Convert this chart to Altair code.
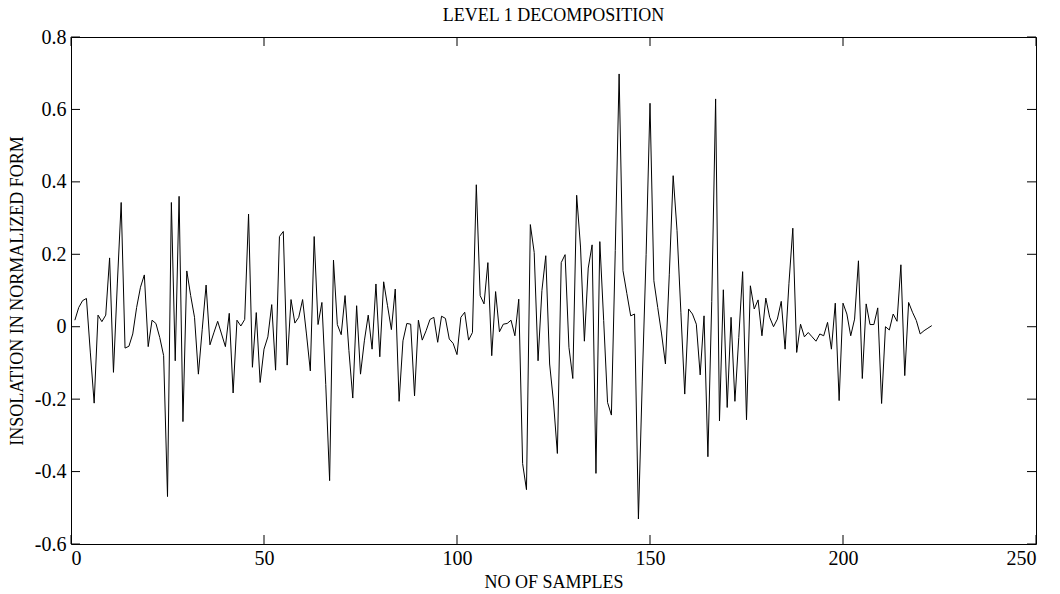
import altair as alt
import pandas as pd

values = [
    0.018, 0.053, 0.072, 0.078, -0.07, -0.211, 0.032, 0.014, 0.032, 0.19,
    -0.126, 0.118, 0.343, -0.059, -0.054, -0.02, 0.053, 0.109, 0.143, -0.055,
    0.018, 0.009, -0.03, -0.08, -0.469, 0.343, -0.094, 0.36, -0.262, 0.154,
    0.086, 0.026, -0.131, -0.007, 0.115, -0.05, -0.017, 0.015, -0.02, -0.055,
    0.037, -0.183, 0.018, 0.002, 0.02, 0.311, -0.112, 0.039, -0.154, -0.062,
    -0.028, 0.061, -0.12, 0.249, 0.263, -0.106, 0.075, 0.01, 0.026, 0.075,
    -0.02, -0.122, 0.249, 0.006, 0.067, -0.16, -0.425, 0.184, 0.006, -0.022,
    0.086, -0.066, -0.197, 0.058, -0.131, -0.039, 0.032, -0.062, 0.118, -0.083,
    0.124, 0.058, -0.008, 0.104, -0.206, -0.039, 0.009, 0.007, -0.191, 0.018,
    -0.037, -0.011, 0.02, 0.026, -0.043, 0.029, 0.023, -0.034, -0.046, -0.077,
    0.026, 0.04, -0.037, -0.016, 0.392, 0.086, 0.063, 0.177, -0.08, 0.097,
    -0.014, 0.007, 0.009, 0.018, -0.025, 0.076, -0.378, -0.45, 0.282, 0.205,
    -0.094, 0.1, 0.196, -0.103, -0.208, -0.35, 0.177, 0.199, -0.057, -0.143,
    0.363, 0.22, -0.04, 0.162, 0.226, -0.405, 0.235, 0.017, -0.209, -0.244,
    0.21, 0.698, 0.155, 0.092, 0.03, 0.035, -0.531, -0.15, 0.2, 0.617,
    0.127, 0.053, -0.02, -0.103, 0.145, 0.417, 0.266, 0.04, -0.186, 0.049,
    0.035, 0.007, -0.133, 0.03, -0.359, 0.07, 0.629, -0.26, 0.102, -0.223,
    0.026, -0.206, -0.03, 0.152, -0.257, 0.113, 0.049, 0.074, -0.025, 0.079,
    0.026, 0.0, 0.021, 0.07, -0.062, 0.12, 0.272, -0.071, 0.007, -0.028,
    -0.016, -0.028, -0.04, -0.02, -0.025, 0.012, -0.062, 0.065, -0.204, 0.065,
    0.035, -0.025, 0.021, 0.182, -0.143, 0.063, 0.006, 0.006, 0.052, -0.212,
    0.0, -0.009, 0.035, 0.015, 0.171, -0.135, 0.067, 0.04, 0.017, -0.02,
    -0.011, -0.004, 0.003,
]
samples = list(range(1, len(values) + 1))

xticks = [0, 50, 100, 150, 200, 250]
yticks = [-0.6, -0.4, -0.2, 0, 0.2, 0.4, 0.6, 0.8]

title_text = "LEVEL 1 DECOMPOSITION"
x_title = "NO OF SAMPLES"
y_title = "INSOLATION IN NORMALIZED FORM"

W, H = 965, 507
FONT = "Liberation Serif"

df = pd.DataFrame({"sample": samples, "value": values})
xt = pd.DataFrame({"sample": xticks})
yt = pd.DataFrame({"value": yticks})

xscale = alt.Scale(domain=[0, 250], nice=False, zero=False)
yscale = alt.Scale(domain=[-0.6, 0.8], nice=False, zero=False)

xaxis = alt.Axis(values=xticks, ticks=False, domain=False, grid=False,
                 title=x_title, labelFont=FONT, labelFontSize=20,
                 labelColor="black", labelPadding=4, titleFont=FONT,
                 titleFontSize=18, titleFontWeight="normal", titleColor="black",
                 titlePadding=5, labelExpr="'' + datum.value")
yaxis = alt.Axis(values=yticks, ticks=False, domain=False, grid=False,
                 title=y_title, labelFont=FONT, labelFontSize=20,
                 labelColor="black", labelPadding=5, titleFont=FONT,
                 titleFontSize=18, titleFontWeight="normal", titleColor="black",
                 titlePadding=8, labelExpr="'' + datum.value")

X = alt.X("sample:Q", scale=xscale, axis=xaxis)
Y = alt.Y("value:Q", scale=yscale, axis=yaxis)

line = alt.Chart(df).mark_line(color="black", strokeWidth=1).encode(x=X, y=Y)

tick_style = dict(color="black", thickness=1, size=9, opacity=1)
bottom = alt.Chart(xt).mark_tick(orient="vertical", **tick_style).encode(
    x=X, y=alt.value(H - 4.5))
top = alt.Chart(xt).mark_tick(orient="vertical", **tick_style).encode(
    x=X, y=alt.value(4.5))
left = alt.Chart(yt).mark_tick(orient="horizontal", **tick_style).encode(
    y=Y, x=alt.value(4.5))
right = alt.Chart(yt).mark_tick(orient="horizontal", **tick_style).encode(
    y=Y, x=alt.value(W - 4.5))

chart = alt.layer(line, bottom, top, left, right).properties(
    width=W, height=H,
    background="white",
    title=alt.TitleParams(title_text, font=FONT, fontSize=18,
                          fontWeight="normal", color="black", offset=2,
                          anchor="middle"),
    autosize=alt.AutoSizeParams(type="none"),
    padding={"left": 71, "top": 37, "right": 24, "bottom": 50},
).configure_view(stroke="black", strokeWidth=1)

chart.save("out.html", embed_options={"renderer": "svg", "actions": False})
